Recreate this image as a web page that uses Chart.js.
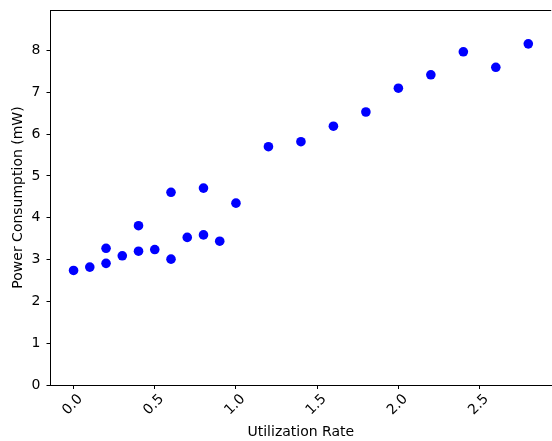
<!DOCTYPE html>
<html>
<head>
<meta charset="utf-8">
<script src="https://cdn.jsdelivr.net/npm/chart.js@4/dist/chart.umd.min.js"></script>
<style>
  html, body { margin: 0; padding: 0; background: #fff; overflow: hidden; }
  canvas { display: block; }
</style>
</head>
<body>
<canvas id="chart-power" width="556" height="441"></canvas>
<script>
const utilization = [0.0, 0.1, 0.2, 0.2, 0.3, 0.4, 0.4, 0.5, 0.6, 0.6, 0.7, 0.8, 0.8, 0.9, 1.0,
    1.2, 1.4, 1.6, 1.8, 2.0, 2.2, 2.4, 2.6, 2.8];
const power = [2.74, 2.82, 2.91, 3.27, 3.09, 3.20, 3.81, 3.24, 3.01, 4.61, 3.53, 3.59, 4.71, 3.44, 4.35,
    5.70, 5.82, 6.19, 6.53, 7.10, 7.42, 7.97, 7.60, 8.16];
const xTicks = [0.0, 0.5, 1.0, 1.5, 2.0, 2.5];
const yTicks = [0, 1, 2, 3, 4, 5, 6, 7, 8];

Chart.defaults.font.family = '"DejaVu Sans", sans-serif';
Chart.defaults.font.size = 14;
Chart.defaults.color = '#000';

// top spine (matplotlib box)
const frame = {
    id: 'frame',
    afterDraw(chart) {
        const { ctx, chartArea: a } = chart;
        ctx.save();
        ctx.strokeStyle = '#000';
        ctx.lineWidth = 1;
        ctx.beginPath();
        ctx.moveTo(a.left, a.top + 0.5);
        ctx.lineTo(a.right, a.top + 0.5);
        ctx.stroke();
        ctx.restore();
    }
};

const points = utilization.map((u, i) => ({ x: u, y: power[i] }));

new Chart(document.getElementById('chart-power').getContext('2d'), {
    type: 'scatter',
    data: {
        datasets: [{
            data: points,
            backgroundColor: '#0000ff',
            borderWidth: 0,
            pointRadius: 4.8,
            pointHoverRadius: 4.8
        }]
    },
    options: {
        responsive: false,
        animation: false,
        layout: { padding: { top: 10, right: 1.2, left: 0, bottom: 0 } },
        plugins: { legend: { display: false }, tooltip: { enabled: false } },
        scales: {
            x: {
                type: 'linear',
                min: -0.142,
                max: 2.941,
                afterFit(scale) {
                    scale.height = 56;
                    scale.paddingLeft = 0;
                    scale.paddingRight = 0;
                },
                afterBuildTicks(scale) { scale.ticks = xTicks.map(v => ({ value: v })); },
                border: { display: true, color: '#000', width: 1 },
                grid: { display: true, drawOnChartArea: false, drawTicks: true, tickLength: 4, color: '#000' },
                ticks: {
                    minRotation: 45,
                    maxRotation: 45,
                    labelOffset: 7,
                    padding: 2,
                    callback: v => v.toFixed(1)
                },
                title: { display: true, text: 'Utilization Rate', font: { size: 14 }, padding: { top: 0, bottom: 0 } }
            },
            y: {
                type: 'linear',
                min: 0,
                max: 8.97,
                afterFit(scale) {
                    scale.width = 50.5;
                    scale.paddingTop = 0;
                    scale.paddingBottom = 0;
                },
                afterBuildTicks(scale) { scale.ticks = yTicks.map(v => ({ value: v })); },
                border: { display: true, color: '#000', width: 1 },
                grid: { display: true, drawOnChartArea: false, drawTicks: true, tickLength: 4, color: '#000' },
                ticks: { padding: 6, callback: v => String(v) },
                title: { display: true, text: 'Power Consumption (mW)', font: { size: 14 }, padding: { top: 10, bottom: 0 } }
            }
        }
    },
    plugins: [frame]
});
</script>
</body>
</html>
